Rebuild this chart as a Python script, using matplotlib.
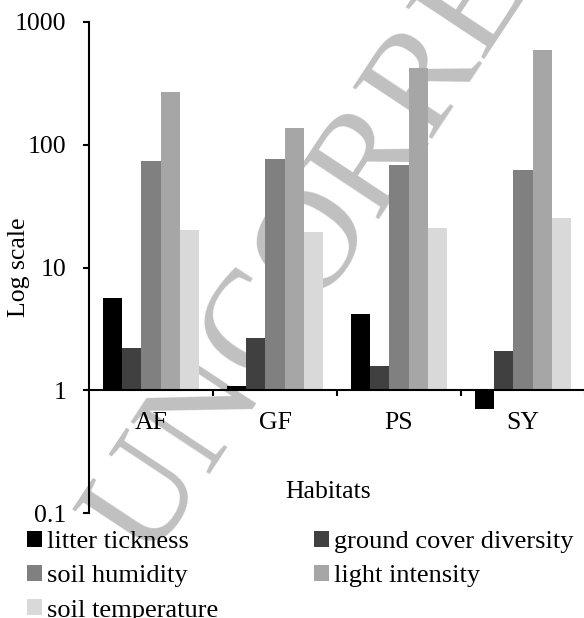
import matplotlib
matplotlib.use("Agg")
import matplotlib.pyplot as plt
from matplotlib.patches import Patch
import numpy as np

plt.rcParams['font.family'] = ['Liberation Serif', 'DejaVu Serif']

habitats = ["AF", "GF", "PS", "SY"]
series_names = ["litter tickness", "ground cover diversity", "soil humidity",
                "light intensity", "soil temperature"]
litter = [5.6, 1.08, 4.15, 0.70]
ground = [2.2, 2.65, 1.58, 2.08]
humidity = [73.5, 77.0, 69.0, 62.0]
light = [270.0, 137.0, 420.0, 590.0]
temperature = [20.1, 19.3, 21.0, 25.5]
series = [litter, ground, humidity, light, temperature]
colors = ["#000000", "#404040", "#808080", "#a6a6a6", "#d9d9d9"]

fig = plt.figure(figsize=(5.84, 6.18), dpi=100)
ax = fig.add_axes([89/584, 1-513/618, 496/584, 491/618])
ax.set_facecolor('none')
ax.set_zorder(1)

# watermark
fig.text(415/584, 1-97/618, "UNCORRECTED", rotation=56.5, ha='center', va='center',
         fontsize=104, color='#c0c0c0', zorder=-5)

x = np.arange(len(habitats))
w = 1/6.5
for i, (vals, c) in enumerate(zip(series, colors)):
    v = np.array(vals)
    ax.bar(x + (i-2)*w, v-1, bottom=1, width=w, color=c, edgecolor='none', zorder=2)

ax.set_yscale('log')
ax.set_ylim(0.1, 1000)
ax.set_xlim(-0.5, 3.5)
ax.set_yticks([0.1, 1, 10, 100, 1000])
ax.set_yticklabels(["0.1", "1", "10", "100", "1000"])
ax.yaxis.set_minor_locator(matplotlib.ticker.NullLocator())

ax.spines['top'].set_visible(False)
ax.spines['right'].set_visible(False)
ax.spines['left'].set_linewidth(1.5)
ax.spines['bottom'].set_position(('data', 1))
ax.spines['bottom'].set_linewidth(1.5)
ax.spines['bottom'].set_zorder(3)

ax.set_xticks(x)
ax.set_xticklabels(habitats)
ax.set_xticks([0.5, 1.5, 2.5, 3.5], minor=True)
ax.tick_params(axis='x', which='major', length=0, pad=16, labelsize=18.5)
ax.tick_params(axis='x', which='minor', length=4.5, width=1.5, direction='out')
ax.tick_params(axis='y', which='major', length=4.5, width=1.5, pad=12, labelsize=18.5)

ax.set_ylabel("Log scale", fontsize=18.5)
ax.yaxis.set_label_coords(-0.119, 0.5)
ax.set_xlabel("Habitats", fontsize=18.5)
ax.xaxis.set_label_coords((328.5-89)/496, (513-481)/491)

order = [0, 2, 4, 1, 3]
handles = [Patch(facecolor=colors[i], edgecolor='none') for i in order]
labels = [series_names[i] for i in order]
fig.legend(handles, labels, ncol=2, loc='upper left',
           bbox_to_anchor=(27/584, 1-531/618), frameon=False, fontsize=19,
           handlelength=0.57, handleheight=0.57, handletextpad=0.19,
           columnspacing=3.63, labelspacing=0.44, borderpad=0, borderaxespad=0)

fig.savefig("out.png", dpi=100)
